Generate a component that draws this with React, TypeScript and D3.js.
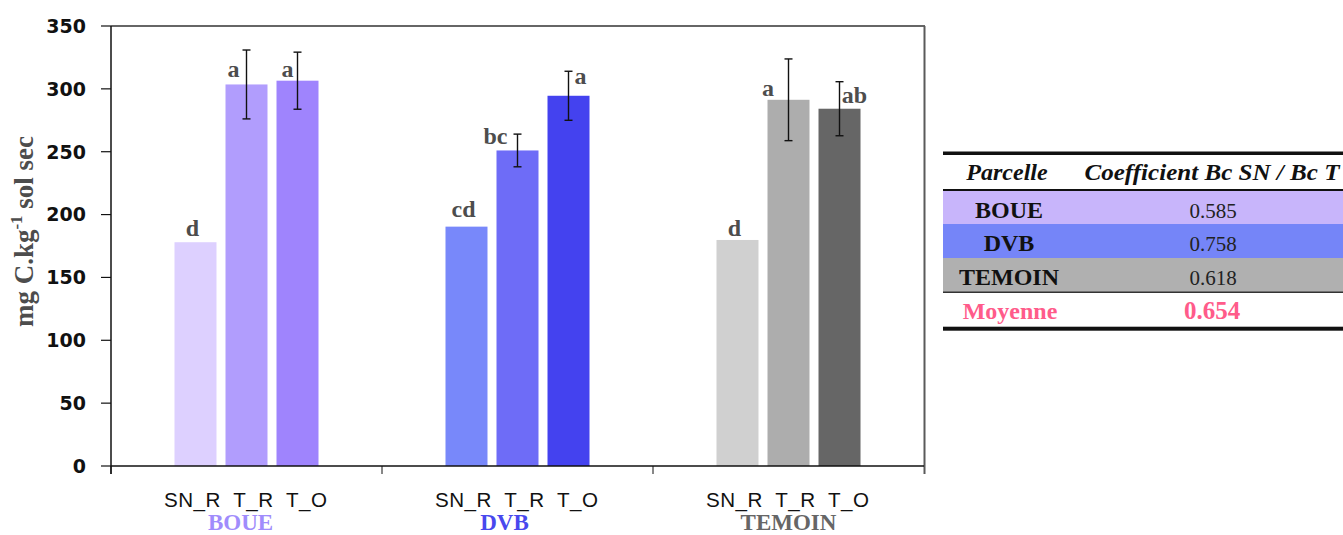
import React from "react";
import * as d3 from "d3";

// ---------- data ----------
const groups = ["BOUE", "DVB", "TEMOIN"];
const series = ["SN_R", "T_R", "T_O"];

const boueValues = [178, 303.5, 306.5];
const dvbValues = [190.4, 251, 294.5];
const temoinValues = [179.8, 291.3, 284.2];

const boueErrors = [0, 27.4, 22.7];
const dvbErrors = [0, 13, 19.5];
const temoinErrors = [0, 32.5, 21.5];

const boueLetters = ["d", "a", "a"];
const dvbLetters = ["cd", "bc", "a"];
const temoinLetters = ["d", "a", "ab"];

const yTicks = [0, 50, 100, 150, 200, 250, 300, 350];

const tableHeader = ["Parcelle", "Coefficient Bc SN / Bc T"];
const tableParcelles = ["BOUE", "DVB", "TEMOIN"];
const tableCoefficients = ["0.585", "0.758", "0.618"];
const meanLabel = "Moyenne";
const meanValue = "0.654";

// ---------- styles / layout ----------
const W = 1343;
const H = 535;
const plot = { left: 111, right: 924, top: 26, bottom: 466 };

const barColors = [
  ["#ddd0ff", "#b19dfd", "#9f84fd"],
  ["#7888fa", "#6e6cf7", "#4442ef"],
  ["#d0d0d0", "#adadad", "#666666"],
];
const groupLabelColors = ["#a08cfc", "#4848ee", "#666666"];
const rowColors = ["#c8b5fb", "#7585f8", "#b0b0b0"];
const pink = "#ff5b8a";
const labelGrey = "#4d4d4d";

// letter label offsets (dx from bar centre, dy of baseline from bar top)
const letterOffsets = [
  [[-3, -6], [-13, -7.5], [-10, -4]],
  [[-3, -10], [-22, -6], [12, -11.5]],
  [[-3, -3.5], [-20.5, -4], [15, -6]],
];
const groupLabelDx = [-6, -13, 0];

const serif = "'Liberation Serif', 'Times New Roman', serif";
const sans = "'Liberation Sans', Arial, sans-serif";
const dejavu = "'DejaVu Sans', Verdana, sans-serif";

export default function App() {
  const allValues = [boueValues, dvbValues, temoinValues];
  const allErrors = [boueErrors, dvbErrors, temoinErrors];
  const allLetters = [boueLetters, dvbLetters, temoinLetters];

  const y = d3.scaleLinear().domain([0, 350]).range([plot.bottom, plot.top]);
  const x0 = d3.scaleBand().domain(groups).range([plot.left, plot.right]).padding(0);
  const x1 = d3
    .scaleBand()
    .domain(series)
    .range([0, x0.bandwidth()])
    .paddingInner(0.1765)
    .paddingOuter(1.245);

  // table geometry
  const tLeft = 943;
  const col1 = 1007;
  const col2 = 1212;
  const rowTops = [191, 224, 258];
  const rowBottoms = [224, 258, 292];

  const seriesLine = series.join("\u00A0\u00A0");

  return (
    <div style={{ position: "absolute", left: 0, top: 0 }}>
      <svg width={W} height={H} style={{ display: "block", background: "#fff" }}>
        {/* bars */}
        {groups.map((g, gi) =>
          series.map((s, si) => {
            const v = allValues[gi][si];
            const bx = (x0(g) as number) + (x1(s) as number);
            return (
              <rect
                key={g + s}
                x={bx}
                y={y(v)}
                width={x1.bandwidth()}
                height={y(0) - y(v)}
                fill={barColors[gi][si]}
              />
            );
          })
        )}

        {/* error bars */}
        {groups.map((g, gi) =>
          series.map((s, si) => {
            const v = allValues[gi][si];
            const e = allErrors[gi][si];
            if (!e) return null;
            const cx = (x0(g) as number) + (x1(s) as number) + x1.bandwidth() / 2;
            return (
              <g key={"e" + g + s} stroke="#111" strokeWidth={1.4}>
                <line x1={cx} x2={cx} y1={y(v + e)} y2={y(v - e)} />
                <line x1={cx - 4} x2={cx + 4} y1={y(v + e)} y2={y(v + e)} />
                <line x1={cx - 4} x2={cx + 4} y1={y(v - e)} y2={y(v - e)} />
              </g>
            );
          })
        )}

        {/* letters */}
        {groups.map((g, gi) =>
          series.map((s, si) => {
            const v = allValues[gi][si];
            const cx = (x0(g) as number) + (x1(s) as number) + x1.bandwidth() / 2;
            const [dx, dy] = letterOffsets[gi][si];
            return (
              <text
                key={"l" + g + s}
                x={cx + dx}
                y={y(v) + dy}
                textAnchor="middle"
                fontFamily={serif}
                fontWeight="bold"
                fontSize={24}
                fill={labelGrey}
              >
                {allLetters[gi][si]}
              </text>
            );
          })
        )}

        {/* frame */}
        <line x1={plot.left} x2={plot.right + 1} y1={plot.top} y2={plot.top} stroke="#333" strokeWidth={1.5} />
        <line x1={plot.right + 0.5} x2={plot.right + 0.5} y1={plot.top} y2={plot.bottom + 8} stroke="#5a5a5a" strokeWidth={2} />
        <line x1={plot.left} x2={plot.right} y1={plot.bottom} y2={plot.bottom} stroke="#111" strokeWidth={1.5} />
        <line x1={plot.left} x2={plot.left} y1={plot.top} y2={plot.bottom + 8} stroke="#111" strokeWidth={1.5} />

        {/* x group ticks */}
        {groups.map((g) => (
          <line
            key={"xt" + g}
            x1={x0(g) as number}
            x2={x0(g) as number}
            y1={plot.bottom}
            y2={plot.bottom + 8}
            stroke="#111"
            strokeWidth={1}
          />
        ))}

        {/* y ticks */}
        {yTicks.map((t) => (
          <g key={"yt" + t}>
            <line x1={plot.left - 10} x2={plot.left} y1={y(t)} y2={y(t)} stroke="#111" strokeWidth={1.2} />
            <text
              x={plot.left - 25}
              y={y(t)}
              dy="0.36em"
              textAnchor="end"
              fontFamily={dejavu}
              fontWeight="bold"
              fontSize={19}
              fill="#111"
            >
              {t}
            </text>
          </g>
        ))}

        {/* y title */}
        <text
          transform={`translate(33, 231.5) rotate(-90)`}
          textAnchor="middle"
          fontFamily={serif}
          fontWeight="bold"
          fontSize={27}
          fill={labelGrey}
        >
          mg C.kg
          <tspan fontSize={17} dy={-11}>
            -1
          </tspan>
          <tspan dy={11}> sol sec</tspan>
        </text>

        {/* x labels */}
        {groups.map((g, gi) => {
          const gc = (x0(g) as number) + x0.bandwidth() / 2;
          return (
            <g key={"xl" + g}>
              <text
                x={gc - 1}
                y={507}
                textAnchor="middle"
                fontFamily={sans}
                fontSize={20.6}
                fill="#111"
                textLength={163}
                lengthAdjust="spacing"
              >
                {seriesLine}
              </text>
              <text
                x={gc + groupLabelDx[gi]}
                y={530}
                textAnchor="middle"
                fontFamily={serif}
                fontWeight="bold"
                fontSize={23}
                fill={groupLabelColors[gi]}
              >
                {g}
              </text>
            </g>
          );
        })}

        {/* table */}
        <rect x={tLeft} y={151.5} width={W - tLeft} height={3.5} fill="#111" />
        <text x={col1} y={180} textAnchor="middle" fontFamily={serif} fontWeight="bold" fontStyle="italic" fontSize={24} fill="#111">
          {tableHeader[0]}
        </text>
        <text
          x={col2}
          y={180}
          textAnchor="middle"
          fontFamily={serif}
          fontWeight="bold"
          fontStyle="italic"
          fontSize={24}
          fill="#111"
          textLength={255}
          lengthAdjust="spacingAndGlyphs"
        >
          {tableHeader[1]}
        </text>
        <rect x={tLeft} y={189} width={W - tLeft} height={2} fill="#111" />
        {tableParcelles.map((p, i) => (
          <g key={"row" + p}>
            <rect x={tLeft} y={rowTops[i]} width={W - tLeft} height={rowBottoms[i] - rowTops[i]} fill={rowColors[i]} />
            <text
              x={col1 + 2}
              y={rowTops[i] + 26.5}
              textAnchor="middle"
              fontFamily={serif}
              fontWeight="bold"
              fontSize={24}
              fill="#111"
            >
              {p}
            </text>
            <text
              x={col2 + 1}
              y={rowTops[i] + 26.5}
              textAnchor="middle"
              fontFamily={serif}
              fontSize={21}
              fill="#222"
            >
              {tableCoefficients[i]}
            </text>
          </g>
        ))}
        <rect x={tLeft} y={291.5} width={W - tLeft} height={1.5} fill="#333" />
        <text x={col1 + 3} y={318.5} textAnchor="middle" fontFamily={serif} fontWeight="bold" fontSize={24} fill={pink}>
          {meanLabel}
        </text>
        <text x={col2} y={318.5} textAnchor="middle" fontFamily={serif} fontWeight="bold" fontSize={25} fill={pink}>
          {meanValue}
        </text>
        <rect x={tLeft} y={326.7} width={W - tLeft} height={4} fill="#111" />
      </svg>
    </div>
  );
}
